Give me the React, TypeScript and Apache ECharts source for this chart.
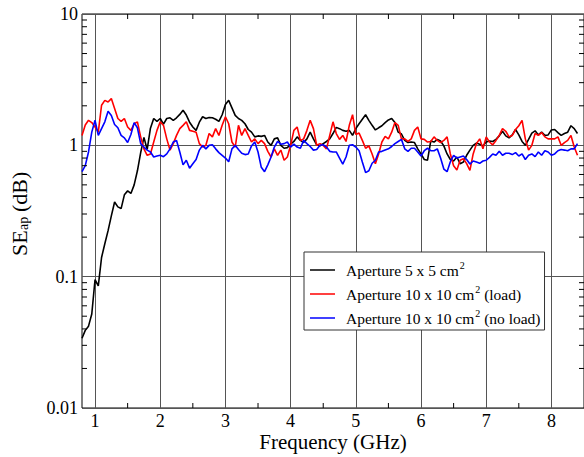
import React, { useEffect, useRef } from 'react';
import * as echarts from 'echarts';

const FONT = 'Liberation Serif';

// Frequency sample points (GHz)
const FREQ_GHZ = [
  0.8, 0.85, 0.9, 0.95, 1.0, 1.05, 1.1, 1.15, 1.2, 1.25,
  1.3, 1.35, 1.4, 1.45, 1.5, 1.55, 1.6, 1.65, 1.7, 1.75,
  1.8, 1.85, 1.9, 1.95, 2.0, 2.05, 2.1, 2.15, 2.2, 2.25,
  2.3, 2.35, 2.4, 2.45, 2.5, 2.55, 2.6, 2.65, 2.7, 2.75,
  2.8, 2.85, 2.9, 2.95, 3.0, 3.05, 3.1, 3.15, 3.2, 3.25,
  3.3, 3.35, 3.4, 3.45, 3.5, 3.55, 3.6, 3.65, 3.7, 3.75,
  3.8, 3.85, 3.9, 3.95, 4.0, 4.05, 4.1, 4.15, 4.2, 4.25,
  4.3, 4.35, 4.4, 4.45, 4.5, 4.55, 4.6, 4.65, 4.7, 4.75,
  4.8, 4.85, 4.9, 4.95, 5.0, 5.05, 5.1, 5.15, 5.2, 5.25,
  5.3, 5.35, 5.4, 5.45, 5.5, 5.55, 5.6, 5.65, 5.7, 5.75,
  5.8, 5.85, 5.9, 5.95, 6.0, 6.05, 6.1, 6.15, 6.2, 6.25,
  6.3, 6.35, 6.4, 6.45, 6.5, 6.55, 6.6, 6.65, 6.7, 6.75,
  6.8, 6.85, 6.9, 6.95, 7.0, 7.05, 7.1, 7.15, 7.2, 7.25,
  7.3, 7.35, 7.4, 7.45, 7.5, 7.55, 7.6, 7.65, 7.7, 7.75,
  7.8, 7.85, 7.9, 7.95, 8.0, 8.05, 8.1, 8.15, 8.2, 8.25,
  8.3, 8.35, 8.4,
];

// Aperture 5 x 5 cm^2
const SE_5X5 = [
  0.034, 0.039, 0.042, 0.052, 0.095, 0.085, 0.14, 0.178, 0.224, 0.29,
  0.37, 0.34, 0.33, 0.42, 0.45, 0.43, 0.5, 0.64, 0.88, 1.15,
  0.93, 1.35, 1.6, 1.52, 1.6, 1.45, 1.6, 1.62, 1.55, 1.62,
  1.72, 1.85, 1.7, 1.5, 1.38, 1.3, 1.5, 1.65, 1.6, 1.63,
  1.62, 1.58, 1.52, 1.71, 2.05, 2.2, 1.93, 1.69, 1.6, 1.55,
  1.46, 1.32, 1.26, 1.16, 1.18, 1.17, 1.19, 1.06, 1.0, 1.12,
  1.14, 1.0, 0.95, 0.96, 1.02, 1.07, 1.16, 1.09, 1.05, 1.12,
  1.26, 1.12, 1.01, 0.99, 1.03, 1.07, 1.12, 1.23, 1.37, 1.34,
  1.3, 1.28, 1.3, 1.19, 1.34, 1.46, 1.58, 1.71, 1.55, 1.42,
  1.31, 1.36, 1.41, 1.49, 1.56, 1.6, 1.49, 1.26, 1.22, 1.09,
  1.05, 1.06, 1.05, 0.94, 0.86, 0.78, 0.77, 1.08, 1.06, 1.11,
  1.08, 0.99, 0.86, 0.78, 0.76, 0.815, 0.725, 0.746, 0.84, 0.92,
  1.0, 1.04, 1.02, 0.99, 1.06, 1.08, 1.07, 1.11, 1.18, 1.28,
  1.18, 1.14, 1.2, 1.32, 1.2, 1.07, 1.0, 1.11, 1.24, 1.29,
  1.2, 1.26, 1.19, 1.2, 1.31, 1.32, 1.25, 1.19, 1.23, 1.26,
  1.41, 1.34, 1.23,
];

// Aperture 10 x 10 cm^2 (load)
const SE_10X10_LOAD = [
  1.19, 1.43, 1.55, 1.49, 1.38, 1.26, 2.02, 2.2, 2.14, 2.27,
  1.91, 1.6, 1.52, 1.6, 1.38, 1.3, 1.46, 1.51, 1.16, 0.94,
  0.84, 0.86, 1.06, 1.3, 1.51, 1.42, 1.12, 0.92, 1.03, 1.19,
  1.34, 1.42, 1.51, 1.3, 1.28, 1.26, 1.03, 0.97, 1.0, 1.23,
  1.16, 1.34, 1.19, 1.42, 1.65, 1.46, 1.06, 0.97, 1.42, 1.19,
  1.34, 1.19, 1.06, 1.12, 1.03, 1.09, 1.03, 0.9, 0.815, 0.94,
  0.84, 0.92, 0.77, 0.815, 1.0, 1.3, 1.38, 1.09, 1.12, 1.3,
  1.55, 1.34, 1.0, 1.03, 1.0, 0.94, 1.19, 1.51, 1.23, 1.11,
  1.19, 1.07, 1.42, 1.71, 1.21, 1.24, 1.09, 0.95, 0.99, 0.86,
  0.725, 0.86, 1.06, 1.17, 1.12, 1.26, 1.49, 1.42, 1.12, 1.12,
  1.07, 1.12, 1.3, 1.38, 1.12, 1.11, 1.06, 1.07, 1.16, 1.09,
  1.05, 1.09, 1.16, 0.86, 0.7, 0.65, 0.77, 0.79, 0.725, 0.645,
  0.86, 1.03, 1.12, 0.94, 1.16, 1.06, 1.01, 1.09, 1.19, 1.34,
  1.28, 1.16, 1.19, 1.32, 1.41, 1.55, 1.12, 0.92, 1.0, 1.23,
  1.19, 1.25, 1.16, 1.12, 1.12, 1.12, 1.16, 1.0, 1.05, 1.09,
  1.19, 0.97, 0.84,
];

// Aperture 10 x 10 cm^2 (no load)
const SE_10X10_NOLOAD = [
  0.63, 0.7, 0.89, 1.26, 1.55, 1.19, 1.34, 1.51, 1.82, 1.69,
  1.44, 1.36, 1.19, 1.14, 1.05, 1.21, 1.49, 1.36, 1.03, 0.97,
  0.92, 0.89, 0.815, 0.83, 0.84, 0.82, 0.86, 0.94, 1.06, 1.09,
  0.89, 0.71, 0.77, 0.67, 0.725, 0.78, 0.92, 1.0, 0.94, 1.0,
  1.01, 0.94, 0.88, 0.84, 0.8, 0.75, 0.94, 1.0, 0.93, 0.87,
  0.85, 0.86, 0.99, 1.06, 0.89, 0.68, 0.63, 0.71, 0.815, 0.97,
  1.07, 1.02, 1.03, 1.06, 0.97, 1.02, 0.97, 0.95, 1.09, 1.03,
  0.98, 0.92, 0.93, 1.0, 1.01, 0.97, 0.9, 0.89, 0.89, 0.8,
  0.72, 0.815, 1.0, 1.01, 0.97, 0.91, 0.746, 0.62, 0.64, 0.73,
  0.77, 0.89, 0.9, 0.92, 0.94, 0.98, 1.03, 1.07, 1.11, 0.94,
  0.9, 0.95, 0.95, 0.89, 0.83, 0.91, 0.95, 0.91, 0.91, 0.94,
  0.8, 0.66, 0.63, 0.75, 0.84, 0.8, 0.815, 0.83, 0.78, 0.72,
  0.76, 0.746, 0.73, 0.76, 0.77, 0.81, 0.86, 0.84, 0.9, 0.84,
  0.87, 0.87, 0.85, 0.88, 0.83, 0.86, 0.78, 0.84, 0.86, 0.82,
  0.89, 0.84, 0.91, 0.89, 0.84, 0.86, 0.91, 0.93, 0.92, 0.91,
  0.94, 0.94, 1.03,
];

const SERIES_NAMES = [
  'Aperture 5 x 5 cm2',
  'Aperture 10 x 10 cm2 (load)',
  'Aperture 10 x 10 cm2 (no load)',
];
const SERIES_VALUES = [SE_5X5, SE_10X10_LOAD, SE_10X10_NOLOAD];
const SERIES_COLORS = ['#000000', '#ff0000', '#0000ff'];
const LEGEND_LABELS: Record<string, string> = {
  'Aperture 5 x 5 cm2': '{t|Aperture 5 x 5 cm}{s|2}',
  'Aperture 10 x 10 cm2 (load)': '{t|Aperture 10 x 10 cm}{s|2}{t| (load)}',
  'Aperture 10 x 10 cm2 (no load)': '{t|Aperture 10 x 10 cm}{s|2}{t| (no load)}',
};

const X_MIN = 0.8;
const X_MAX = 8.5;
const Y_MIN = 0.01;
const Y_MAX = 10;
const X_TICKS = [1, 2, 3, 4, 5, 6, 7, 8];
const X_MINOR_TICKS = [1.5, 2.5, 3.5, 4.5, 5.5, 6.5, 7.5];
const Y_MINOR_TICKS = [
  0.02, 0.03, 0.04, 0.05, 0.06, 0.07, 0.08, 0.09,
  0.2, 0.3, 0.4, 0.5, 0.6, 0.7, 0.8, 0.9,
  2, 3, 4, 5, 6, 7, 8, 9,
];
const Y_TICK_LABELS: Record<string, string> = { '-2': '0.01', '-1': '0.1', '0': '1', '1': '10' };

export default function App() {
  const ref = useRef<HTMLDivElement>(null);

  useEffect(() => {
    if (!ref.current) return;
    const chart = echarts.init(ref.current, undefined, { renderer: 'svg' });

    const tickData = [
      ...X_MINOR_TICKS.map((x) => [x, Y_MIN, 0]),
      ...X_MINOR_TICKS.map((x) => [x, Y_MAX, 1]),
      ...Y_MINOR_TICKS.map((y) => [X_MIN, y, 2]),
      ...Y_MINOR_TICKS.map((y) => [X_MAX, y, 3]),
    ];

    const lineSeries = SERIES_NAMES.map((name, si) => ({
      name,
      type: 'line',
      showSymbol: false,
      symbol: 'none',
      data: FREQ_GHZ.map((f, i) => [f, SERIES_VALUES[si][i]]),
      lineStyle: { color: SERIES_COLORS[si], width: 1.6 },
      itemStyle: { color: SERIES_COLORS[si] },
      z: 3,
    }));

    chart.setOption({
      animation: false,
      textStyle: { fontFamily: FONT },
      grid: {
        left: 82,
        right: 0,
        top: 14,
        bottom: 49,
        show: true,
        borderColor: '#000',
        borderWidth: 1,
        backgroundColor: 'transparent',
        containLabel: false,
        outerBoundsMode: 'none',
      },
      legend: {
        data: SERIES_NAMES,
        orient: 'vertical',
        left: 304,
        top: 252,
        backgroundColor: '#fff',
        borderColor: '#333',
        borderWidth: 1,
        borderRadius: 0,
        padding: [8, 4, 4, 6],
        itemGap: 6,
        itemWidth: 25,
        itemHeight: 1.5,
        icon: 'rect',
        selectedMode: false,
        formatter: (name: string) => LEGEND_LABELS[name] || name,
        textStyle: {
          fontFamily: FONT,
          fontSize: 15.5,
          color: '#000',
          padding: [0, 0, 0, 6],
          rich: {
            t: { fontFamily: FONT, fontSize: 15.5, color: '#000', lineHeight: 20, verticalAlign: 'middle' },
            s: { fontFamily: FONT, fontSize: 10, color: '#000', lineHeight: 9, verticalAlign: 'top', padding: [0, 0, 0, 1] },
          },
        },
        z: 10,
      },
      xAxis: {
        type: 'value',
        min: X_MIN,
        max: X_MAX,
        axisLine: { show: false },
        axisTick: { show: false, customValues: X_TICKS },
        axisLabel: {
          customValues: X_TICKS,
          fontFamily: FONT,
          fontSize: 18,
          lineHeight: 14,
          color: '#000',
          margin: 6,
        },
        splitLine: { show: true, lineStyle: { color: '#555', width: 1 } },
        name: 'Frequency (GHz)',
        nameLocation: 'middle',
        nameGap: 25,
        nameMoveOverlap: false,
        nameTextStyle: { fontFamily: FONT, fontSize: 21, lineHeight: 18, color: '#000', verticalAlign: 'top' },
      },
      yAxis: {
        type: 'log',
        logBase: 10,
        min: Y_MIN,
        max: Y_MAX,
        axisLine: { show: false },
        axisTick: { show: false },
        axisLabel: {
          fontFamily: FONT,
          fontSize: 18,
          color: '#000',
          margin: 4,
          formatter: (v: number) => Y_TICK_LABELS[String(Math.round(Math.log10(v)))] ?? String(v),
        },
        splitLine: { show: true, lineStyle: { color: '#555', width: 1 } },
      },
      graphic: [
        {
          type: 'group',
          x: 27,
          y: 256,
          rotation: Math.PI / 2,
          children: [
            { type: 'text', x: 0, y: -7.4, style: { text: 'SE', fontFamily: FONT, fontSize: 22, fill: '#000', align: 'left', verticalAlign: 'middle' } },
            { type: 'text', x: 26, y: -3.2, style: { text: 'ap', fontFamily: FONT, fontSize: 14, fill: '#000', align: 'left', verticalAlign: 'middle' } },
            { type: 'text', x: 44, y: -7.4, style: { text: '(dB)', fontFamily: FONT, fontSize: 22, fill: '#000', align: 'left', verticalAlign: 'middle' } },
          ],
        },
      ],
      series: [
        ...lineSeries,
        {
          type: 'custom',
          name: 'minor-ticks',
          coordinateSystem: 'cartesian2d',
          silent: true,
          clip: false,
          z: 5,
          encode: { x: 0, y: 1 },
          data: tickData,
          renderItem: (_params: any, api: any) => {
            const p = api.coord([api.value(0), api.value(1)]);
            const side = api.value(2);
            const L = 5;
            const d = side === 0 ? [0, -L] : side === 1 ? [0, L] : side === 2 ? [L, 0] : [-L, 0];
            return {
              type: 'line',
              shape: { x1: p[0], y1: p[1], x2: p[0] + d[0], y2: p[1] + d[1] },
              style: { stroke: '#000', lineWidth: 1 },
            };
          },
        },
      ],
    });

    return () => chart.dispose();
  }, []);

  return (
    <div
      ref={ref}
      style={{ position: 'absolute', left: 0, top: 0, width: 584, height: 457, background: '#fff' }}
    />
  );
}
